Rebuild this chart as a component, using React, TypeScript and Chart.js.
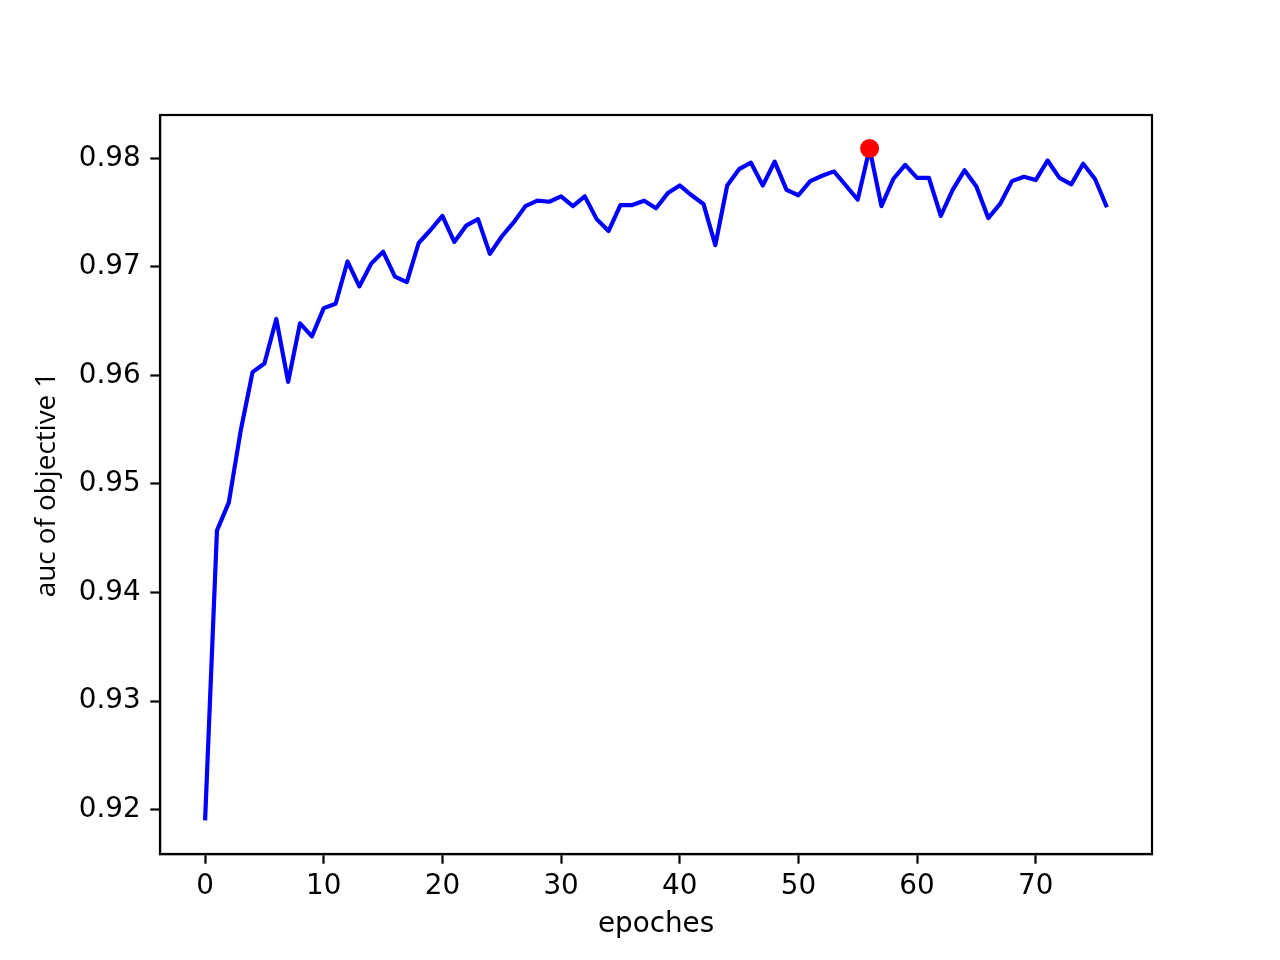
import React, { useEffect, useRef } from "react";
import { Chart, registerables } from "chart.js";

Chart.register(...registerables);

const epochs: number[] = Array.from({ length: 77 }, (_, i) => i);

const aucValues: number[] = [
  0.919, 0.9457, 0.9483, 0.9549, 0.9603, 0.9611, 0.9652, 0.9594, 0.9648, 0.9636,
  0.9662, 0.9666, 0.9705, 0.9682, 0.9703, 0.9714, 0.9691, 0.9686, 0.9722, 0.9734,
  0.9747, 0.9723, 0.9738, 0.9744, 0.9712, 0.9728, 0.9741, 0.9756, 0.9761, 0.976,
  0.9765, 0.9756, 0.9765, 0.9744, 0.9733, 0.9757, 0.9757, 0.9761, 0.9754, 0.9768,
  0.9775, 0.9766, 0.9758, 0.972, 0.9775, 0.979, 0.9796, 0.9775, 0.9797, 0.9771,
  0.9766, 0.9779, 0.9784, 0.9788, 0.9775, 0.9762, 0.9809, 0.9756, 0.9781, 0.9794,
  0.9782, 0.9782, 0.9747, 0.9771, 0.9789, 0.9774, 0.9745, 0.9758, 0.9779, 0.9783,
  0.978, 0.9798, 0.9782, 0.9776, 0.9795, 0.9781, 0.9755,
];

const xTicks: number[] = [0, 10, 20, 30, 40, 50, 60, 70];
const yTicks: number[] = [0.92, 0.93, 0.94, 0.95, 0.96, 0.97, 0.98];

const xLabel = "epoches";
const yLabel = "auc of objective 1";

const FONT = "'DejaVu Sans', sans-serif";
const YFONT = "'Open Sans', sans-serif";
const FS = 27.8;

export default function App() {
  const ref = useRef<HTMLCanvasElement | null>(null);

  useEffect(() => {
    if (!ref.current) return;
    let bestIdx = 0;
    aucValues.forEach((v, i) => {
      if (v > aucValues[bestIdx]) bestIdx = i;
    });

    const xMin = epochs[0], xMax = epochs[epochs.length - 1];
    const xm = (xMax - xMin) * 0.05;
    const yLo = Math.min(...aucValues), yHi = Math.max(...aucValues);
    const ym = (yHi - yLo) * 0.05;

    const frame = {
      id: "frame",
      afterDraw(chart: any) {
        const { ctx, chartArea: a } = chart;
        ctx.save();
        ctx.strokeStyle = "#000";
        ctx.lineWidth = 2.2;
        ctx.strokeRect(a.left, a.top, a.right - a.left, a.bottom - a.top);
        ctx.restore();
      },
    };

    const chart = new Chart(ref.current, {
      type: "line",
      data: {
        datasets: [
          {
            data: [{ x: epochs[bestIdx], y: aucValues[bestIdx] }],
            showLine: false,
            pointRadius: 9.5,
            pointBackgroundColor: "#ff0000",
            pointBorderColor: "#ff0000",
            pointBorderWidth: 0,
            order: 0,
          },
          {
            data: epochs.map((e, i) => ({ x: e, y: aucValues[i] })),
            borderColor: "#0000ff",
            borderWidth: 4.2,
            pointRadius: 0,
            tension: 0,
            fill: false,
            borderJoinStyle: "round",
            order: 1,
          },
        ],
      },
      options: {
        responsive: false,
        animation: false,
        events: [],
        layout: { padding: { top: 115, right: 128, bottom: 0, left: 0 } },
        plugins: { legend: { display: false }, tooltip: { enabled: false } },
        scales: {
          x: {
            type: "linear",
            min: xMin - xm,
            max: xMax + xm,
            afterBuildTicks: (s: any) => {
              s.ticks = xTicks.map((v) => ({ value: v }));
            },
            afterFit: (s: any) => {
              s.height = 106;
            },
            grid: {
              drawOnChartArea: false,
              drawTicks: true,
              tickLength: 9.7,
              tickWidth: 2.2,
              tickColor: "#000",
            },
            border: { display: true, color: "#000", width: 2.2 },
            ticks: {
              color: "#000",
              font: { family: FONT, size: FS },
              padding: 6,
              maxRotation: 0,
              autoSkip: false,
              callback: (v: any) => String(v),
            },
            title: {
              display: true,
              text: xLabel,
              color: "#000",
              font: { family: FONT, size: FS, lineHeight: 1.2 },
              padding: { top: 0, bottom: 19 },
            },
          },
          y: {
            type: "linear",
            min: yLo - ym,
            max: yHi + ym,
            afterBuildTicks: (s: any) => {
              s.ticks = yTicks.map((v) => ({ value: v }));
            },
            afterFit: (s: any) => {
              s.width = 160;
            },
            grid: {
              drawOnChartArea: false,
              drawTicks: true,
              tickLength: 9.7,
              tickWidth: 2.2,
              tickColor: "#000",
            },
            border: { display: true, color: "#000", width: 2.2 },
            ticks: {
              color: "#000",
              font: { family: FONT, size: FS },
              padding: 9.7,
              autoSkip: false,
              callback: (v: any) => Number(v).toFixed(2),
            },
            title: {
              display: true,
              text: yLabel,
              color: "#000",
              font: { family: YFONT, size: FS, lineHeight: 1.2 },
              padding: { top: 30, bottom: 0 },
            },
          },
        },
      },
      plugins: [frame],
    });
    return () => chart.destroy();
  }, []);

  return (
    <div style={{ position: "absolute", left: 0, top: 0, width: 1280, height: 960, background: "#fff" }}>
      <canvas ref={ref} width={1280} height={960} style={{ width: 1280, height: 960, display: "block" }} />
    </div>
  );
}
